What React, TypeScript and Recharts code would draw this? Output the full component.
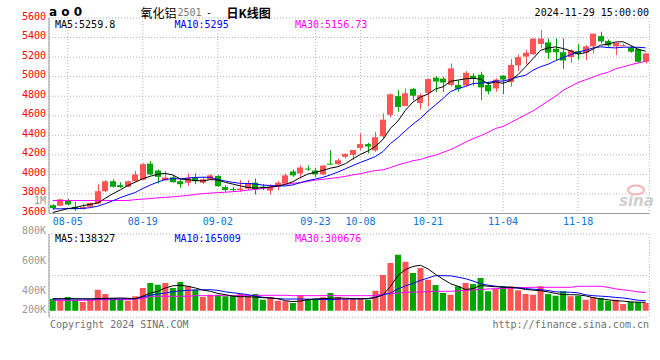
import React from "react";
import { ComposedChart, Bar, Line, XAxis, YAxis, CartesianGrid, Cell } from "recharts";

// trading days shown on the chart
const dates = [
  "08-01", "08-02", "08-05", "08-06", "08-07", "08-08", "08-09", "08-12", "08-13", "08-14",
  "08-15", "08-16", "08-19", "08-20", "08-21", "08-22", "08-23", "08-26", "08-27", "08-28",
  "08-29", "08-30", "09-02", "09-03", "09-04", "09-05", "09-06", "09-09", "09-10", "09-11",
  "09-12", "09-13", "09-18", "09-19", "09-20", "09-23", "09-24", "09-25", "09-26", "09-27",
  "09-30", "10-08", "10-09", "10-10", "10-11", "10-14", "10-15", "10-16", "10-17", "10-18",
  "10-21", "10-22", "10-23", "10-24", "10-25", "10-28", "10-29", "10-30", "10-31", "11-01",
  "11-04", "11-05", "11-06", "11-07", "11-08", "11-11", "11-12", "11-13", "11-14", "11-15",
  "11-18", "11-19", "11-20", "11-21", "11-22", "11-25", "11-26", "11-27", "11-28", "11-29",
];

const open = [
  3685, 3680, 3733, 3668, 3645, 3668, 3702, 3828, 3930, 3890,
  3873, 3930, 3945, 4110, 4040, 3940, 3970, 3930, 3915, 3968,
  3915, 3950, 3985, 3870, 3850, 3840, 3855, 3915, 3875, 3835,
  3875, 3905, 4030, 4010, 4060, 4040, 4000, 4110, 4105, 4180,
  4200, 4270, 4310, 4245, 4390, 4610, 4800, 4700, 4875, 4730,
  4835, 4990, 4980, 4915, 4915, 4910, 5010, 5020, 4915, 4880,
  5010, 4945, 5115, 5205, 5230, 5335, 5350, 5285, 5250, 5200,
  5260, 5245, 5310, 5415, 5365, 5310, 5318, 5300, 5282, 5152,
];
const high = [
  3695, 3750, 3750, 3719, 3702, 3712, 3900, 3940, 3948, 3920,
  3935, 4035, 4115, 4136, 4050, 4033, 3995, 3948, 4009, 4009,
  3975, 4000, 3992, 3890, 3873, 3941, 3941, 3958, 3900, 3900,
  3931, 4009, 4050, 4091, 4091, 4067, 4095, 4248, 4163, 4214,
  4248, 4419, 4323, 4436, 4624, 4828, 4862, 4880, 4886, 4828,
  4982, 5006, 4999, 5135, 4965, 5057, 5033, 5050, 4948, 4982,
  5016, 5180, 5228, 5272, 5391, 5477, 5391, 5391, 5391, 5279,
  5333, 5323, 5440, 5460, 5381, 5347, 5340, 5313, 5289, 5240,
];
const low = [
  3640, 3675, 3682, 3627, 3640, 3660, 3695, 3820, 3866, 3860,
  3870, 3925, 3940, 3992, 3907, 3935, 3917, 3866, 3883, 3900,
  3900, 3940, 3873, 3822, 3822, 3822, 3839, 3794, 3839, 3794,
  3839, 3900, 3975, 3958, 4037, 3975, 3992, 4102, 4095, 4163,
  4146, 4248, 4214, 4231, 4368, 4583, 4641, 4699, 4760, 4665,
  4699, 4845, 4845, 4897, 4845, 4897, 4907, 4760, 4820, 4845,
  4820, 4897, 5057, 5125, 5221, 5289, 5180, 5170, 5080, 5142,
  5176, 5170, 5238, 5340, 5306, 5221, 5313, 5245, 5142, 5135,
];
const close = [
  3655, 3745, 3692, 3645, 3668, 3709, 3828, 3930, 3873, 3870,
  3930, 4000, 4105, 4000, 3975, 3968, 3920, 3900, 3965, 3930,
  3950, 3990, 3880, 3840, 3845, 3855, 3910, 3850, 3862, 3875,
  3915, 3990, 3990, 4070, 4055, 4000, 4090, 4105, 4145, 4210,
  4250, 4310, 4285, 4380, 4560, 4820, 4690, 4830, 4805, 4810,
  4975, 4950, 4940, 5085, 4875, 5040, 4980, 4890, 4850, 4970,
  4970, 5120, 5200, 5245, 5390, 5390, 5245, 5250, 5165, 5270,
  5230, 5310, 5440, 5360, 5320, 5345, 5322, 5255, 5152, 5238,
];

const ma5 = [
  3610, 3630, 3650, 3660, 3681, 3692, 3708, 3756, 3802, 3842,
  3886, 3921, 3956, 3981, 4002, 4010, 3994, 3953, 3946, 3937,
  3933, 3947, 3943, 3918, 3901, 3882, 3866, 3860, 3864, 3870,
  3882, 3898, 3926, 3968, 4004, 4021, 4041, 4064, 4079, 4110,
  4160, 4204, 4240, 4287, 4357, 4471, 4547, 4656, 4741, 4791,
  4822, 4874, 4896, 4952, 4965, 4978, 4984, 4974, 4927, 4946,
  4932, 4960, 5022, 5101, 5185, 5269, 5294, 5304, 5288, 5264,
  5232, 5245, 5283, 5322, 5332, 5355, 5357, 5320, 5279, 5259.8,
];
const ma10 = [
  3648, 3648, 3650, 3650, 3652, 3660, 3675, 3700, 3730, 3762,
  3789, 3815, 3856, 3891, 3922, 3948, 3957, 3954, 3963, 3969,
  3971, 3970, 3948, 3932, 3919, 3908, 3907, 3902, 3891, 3886,
  3882, 3882, 3893, 3916, 3937, 3952, 3970, 3995, 4024, 4057,
  4091, 4123, 4152, 4183, 4234, 4316, 4376, 4448, 4514, 4574,
  4647, 4711, 4776, 4847, 4878, 4900, 4929, 4935, 4940, 4956,
  4955, 4972, 4998, 5014, 5066, 5101, 5127, 5163, 5195, 5225,
  5251, 5270, 5294, 5305, 5298, 5294, 5301, 5302, 5300, 5295,
];
const ma30 = [
  3733, 3733, 3733, 3733, 3733, 3733, 3733, 3733, 3733, 3733,
  3733, 3742, 3747, 3753, 3760, 3765, 3770, 3778, 3785, 3795,
  3803, 3809, 3813, 3818, 3823, 3830, 3839, 3846, 3856, 3868,
  3880, 3897, 3910, 3915, 3930, 3941, 3950, 3958, 3968, 3980,
  3995, 4007, 4025, 4040, 4046, 4070, 4097, 4118, 4140, 4153,
  4178, 4197, 4225, 4253, 4290, 4330, 4365, 4395, 4430, 4470,
  4490, 4530, 4570, 4610, 4650, 4700, 4750, 4800, 4860, 4900,
  4940, 4968, 4995, 5025, 5045, 5080, 5100, 5122, 5140, 5156.73,
];

// volume in thousands of lots
const volume = [
  198, 182, 226, 182, 144, 182, 347, 276, 210, 193,
  165, 238, 375, 457, 429, 457, 375, 474, 403, 347,
  226, 264, 264, 238, 248, 276, 248, 276, 182, 226,
  165, 155, 127, 254, 193, 198, 221, 292, 226, 193,
  198, 198, 182, 330, 589, 787, 924, 809, 622, 705,
  512, 424, 292, 264, 403, 457, 441, 540, 320, 358,
  403, 403, 337, 276, 264, 403, 276, 248, 320, 238,
  248, 182, 221, 210, 165, 182, 111, 144, 144, 127,
];
const volMa5 = [
  198, 198, 198, 196, 196, 195, 200, 205, 206, 210,
  205, 200, 240, 290, 320, 375, 410, 420, 403, 375,
  340, 320, 285, 265, 240, 232, 230, 225, 215, 210,
  198, 165, 150, 160, 180, 195, 198, 205, 210, 205,
  200, 198, 200, 215, 260, 400, 580, 680, 730, 749,
  690, 600, 520, 445, 403, 350, 365, 415, 405, 395,
  390, 385, 375, 350, 340, 330, 310, 285, 264, 264,
  262, 245, 215, 195, 180, 165, 158, 146, 140, 138.327,
];
const volMa10 = [
  192, 193, 193, 194, 194, 193, 193, 194, 195, 196,
  196, 195, 225, 255, 275, 292, 312, 328, 336, 342,
  345, 347, 335, 312, 295, 282, 264, 240, 222, 210,
  198, 193, 193, 193, 190, 188, 185, 182, 190, 193,
  193, 195, 198, 225, 262, 292, 360, 410, 450, 500,
  540, 578, 578, 575, 553, 528, 490, 445, 420, 405,
  390, 382, 375, 365, 355, 347, 333, 312, 306, 304,
  295, 262, 248, 240, 232, 220, 210, 193, 172, 165.009,
];
const volMa30 = [
  171, 171, 171, 171, 171, 171, 182, 182, 182, 182,
  182, 198, 198, 238, 238, 238, 238, 238, 238, 248,
  248, 248, 248, 248, 248, 248, 248, 254, 254, 254,
  254, 254, 248, 248, 248, 248, 248, 248, 248, 248,
  248, 248, 248, 248, 276, 282, 290, 304, 306, 309,
  314, 320, 320, 320, 328, 335, 342, 350, 358, 364,
  369, 375, 380, 384, 386, 386, 386, 386, 386, 386,
  403, 403, 403, 403, 386, 360, 345, 330, 310, 300.676,
];

const priceTicks = [3600, 3800, 4000, 4200, 4400, 4600, 4800, 5000, 5200, 5400, 5600];
const dateTicks = ["08-05", "08-19", "09-02", "09-23", "10-08", "10-21", "11-04", "11-18"];
const volLabelTicks = [200, 400, 600, 800, 1000];

const RED = "#ff5454";
const GREEN = "#00a600";
const FRAME = "#9a9a9a";
const GRID = "#b4b4b4";
const MONO = "'DejaVu Sans Mono', monospace";

const rows = dates.map((date, i) => ({
  date,
  open: open[i],
  high: high[i],
  low: low[i],
  close: close[i],
  range: [low[i], high[i]],
  up: close[i] >= open[i],
  ma5: ma5[i],
  ma10: ma10[i],
  ma30: ma30[i],
  volume: volume[i],
  volMa5: volMa5[i],
  volMa10: volMa10[i],
  volMa30: volMa30[i],
}));

function Candle(props: any) {
  let { x, y, width, height, payload } = props;
  if (height < 0) {
    y = y + height;
    height = -height;
  }
  const { open: o, close: c, high: h, low: l } = payload;
  const color = c >= o ? RED : GREEN;
  const k = h === l ? 0 : height / (h - l);
  const top = y + (h - Math.max(o, c)) * k;
  const bot = y + (h - Math.min(o, c)) * k;
  const cx = Math.round(x + width / 2) + 0.5;
  return (
    <g>
      <line x1={cx} x2={cx} y1={y} y2={y + height} stroke={color} strokeWidth={1} />
      <rect x={Math.round(x)} y={top} width={Math.round(width)} height={Math.max(1, bot - top)} fill={color} />
    </g>
  );
}

function PriceTick(p: any) {
  return (
    <text x={p.x} y={p.y - 2} textAnchor="end" dominantBaseline="central" fontSize={10} fontFamily={MONO} fill="#ff0000">
      {p.payload.value}
    </text>
  );
}

function DateTick(p: any) {
  return (
    <text x={p.x} y={p.y} textAnchor="middle" dominantBaseline="central" fontSize={10} fontFamily={MONO} fill="#0b74d6">
      {p.payload.value}
    </text>
  );
}

function VolTick(p: any) {
  const v = p.payload.value;
  return (
    <text x={p.x} y={Math.min(p.y, 309.3)} textAnchor="end" dominantBaseline="central" fontSize={10} fontFamily={MONO} fill="#999999">
      {v >= 1000 ? v / 1000 + "M" : v + "K"}
    </text>
  );
}

function PriceChart() {
  return (
    <ComposedChart width={660} height={360} data={rows} margin={{ top: 18, right: 10.6, bottom: 126.5, left: 0 }} barCategoryGap="10%">
      <CartesianGrid stroke={GRID} strokeDasharray="1 2" />
      <XAxis dataKey="date" ticks={dateTicks} interval={0} height={20} tickSize={0} tickMargin={8} tickLine={false} axisLine={{ stroke: FRAME }} tick={DateTick} />
      <XAxis xAxisId="top" dataKey="date" orientation="top" height={0} tick={false} tickLine={false} axisLine={{ stroke: FRAME }} />
      <YAxis domain={[3600, 5600]} ticks={priceTicks} interval={0} allowDataOverflow width={49} tickSize={0} tickMargin={3} tickLine={false} axisLine={{ stroke: FRAME }} tick={PriceTick} />
      <YAxis yAxisId="right" orientation="right" domain={[0, 1]} width={0} tick={false} tickLine={false} axisLine={{ stroke: FRAME }} />
      <Bar dataKey="range" shape={Candle} isAnimationActive={false} />
      <Line dataKey="ma30" stroke="#ff00ff" strokeWidth={1} dot={false} isAnimationActive={false} />
      <Line dataKey="ma10" stroke="#0000ff" strokeWidth={1} dot={false} isAnimationActive={false} />
      <Line dataKey="ma5" stroke="#000000" strokeWidth={1} dot={false} isAnimationActive={false} />
    </ComposedChart>
  );
}

function VolumeChart() {
  return (
    <ComposedChart width={660} height={360} data={rows} margin={{ top: 234, right: 10.6, bottom: 42.7, left: 0 }} barCategoryGap="10%">
      <CartesianGrid yAxisId="grid" stroke={GRID} strokeDasharray="1 2" />
      <XAxis dataKey="date" ticks={dateTicks} interval={0} height={0} tick={false} tickLine={false} axisLine={{ stroke: FRAME }} />
      <XAxis xAxisId="top" dataKey="date" orientation="top" height={0} tick={false} tickLine={false} axisLine={{ stroke: FRAME }} />
      <YAxis yAxisId="lbl" domain={[222.667, 778]} ticks={volLabelTicks} interval={0} allowDataOverflow width={49} tickSize={0} tickMargin={3} tickLine={false} axisLine={{ stroke: FRAME }} tick={VolTick} />
      <YAxis yAxisId="right" orientation="right" domain={[0, 1]} width={0} tick={false} tickLine={false} axisLine={{ stroke: FRAME }} />
      <YAxis yAxisId="vol" orientation="right" hide domain={[-108.9, 1265.55]} allowDataOverflow />
      <YAxis yAxisId="grid" orientation="right" hide domain={[0, 4]} ticks={[0, 1, 2, 3, 4]} allowDataOverflow />
      <Bar yAxisId="vol" dataKey="volume" isAnimationActive={false}>
        {rows.map((r, i) => (
          <Cell key={i} fill={r.up ? RED : GREEN} />
        ))}
      </Bar>
      <Line yAxisId="vol" dataKey="volMa30" stroke="#ff00ff" strokeWidth={1} dot={false} isAnimationActive={false} />
      <Line yAxisId="vol" dataKey="volMa10" stroke="#0000ff" strokeWidth={1} dot={false} isAnimationActive={false} />
      <Line yAxisId="vol" dataKey="volMa5" stroke="#000000" strokeWidth={1} dot={false} isAnimationActive={false} />
    </ComposedChart>
  );
}

function Labels() {
  const t = { fontFamily: MONO, fontSize: 10, dominantBaseline: "central" as const };
  const cjk = "'Noto Sans CJK SC', sans-serif";
  return (
    <svg width={660} height={360} style={{ position: "absolute", left: 0, top: 0, pointerEvents: "none" }}>
      <text x={49} y={12} fontFamily="'DejaVu Sans', sans-serif" fontWeight="bold" fontSize={12} dominantBaseline="central" fill="#000">
        a o 0
      </text>
      <text x={140.5} y={12} fontFamily={cjk} fontSize={12} dominantBaseline="central" fill="#000">氧化铝</text>
      <text x={177.5} y={12} {...t} fill="#777">2501</text>
      <text x={206} y={12} {...t} fill="#000">-</text>
      <text x={226.5} y={12} fontFamily={cjk} fontSize={12} fontWeight="bold" dominantBaseline="central" fill="#000">日K线图</text>
      <text x={649} y={12} {...t} textAnchor="end" fill="#000">2024-11-29 15:00:00</text>

      <text x={55} y={24} {...t} fill="#000">MA5:5259.8</text>
      <text x={174.5} y={24} {...t} fill="#0000ff">MA10:5295</text>
      <text x={295} y={24} {...t} fill="#ff00ff">MA30:5156.73</text>

      <text x={55} y={238.7} {...t} fill="#000">MA5:138327</text>
      <text x={174.5} y={238.7} {...t} fill="#0000ff">MA10:165009</text>
      <text x={295} y={238.7} {...t} fill="#ff00ff">MA30:300676</text>

      <ellipse cx={636} cy={190} rx={8} ry={4.5} fill="none" stroke="#f2b4b4" strokeWidth={2} />
      <text x={619} y={201} fontFamily="'DejaVu Sans', sans-serif" fontStyle="italic" fontWeight="bold" fontSize={15} dominantBaseline="central" fill="#cfcfcf">
        sina
      </text>

      <text x={50} y={324} {...t} fill="#6f6f6f">Copyright 2024 SINA.COM</text>
      <text x={649} y={324} {...t} textAnchor="end" fill="#6f6f6f">http://finance.sina.com.cn</text>
    </svg>
  );
}

export default function App() {
  return (
    <div style={{ position: "absolute", left: 0, top: 0, width: 660, height: 360, background: "#fff" }}>
      <div style={{ position: "absolute", left: 0, top: 0 }}>
        <VolumeChart />
      </div>
      <div style={{ position: "absolute", left: 0, top: 0 }}>
        <PriceChart />
      </div>
      <Labels />
    </div>
  );
}
